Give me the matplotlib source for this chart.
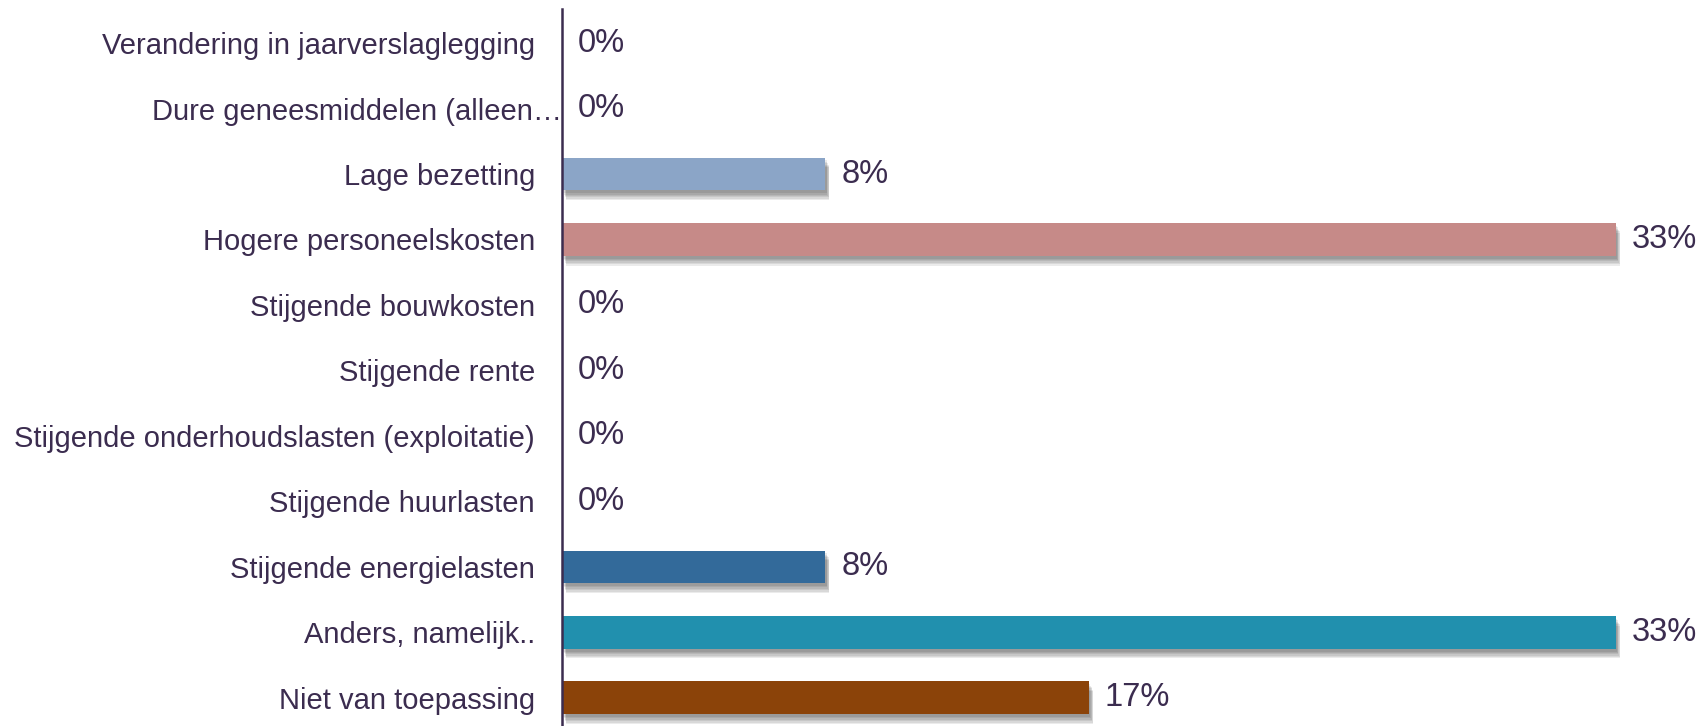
import matplotlib.pyplot as plt
import matplotlib.patheffects as pe

# data (top to bottom)
categories = [
    'Verandering in jaarverslaglegging',
    'Dure geneesmiddelen (alleen…',
    'Lage bezetting',
    'Hogere personeelskosten',
    'Stijgende bouwkosten',
    'Stijgende rente',
    'Stijgende onderhoudslasten (exploitatie)',
    'Stijgende huurlasten',
    'Stijgende energielasten',
    'Anders, namelijk..',
    'Niet van toepassing',
]
values = [0, 0, 8.33, 33.33, 0, 0, 0, 0, 8.33, 33.33, 16.67]
labels = ['0%', '0%', '8%', '33%', '0%', '0%', '0%', '0%', '8%', '33%', '17%']
colors = ['#7F7F7F', '#A5A5A5', '#8BA5C7', '#C68A88', '#B0C77F', '#9A86B3',
          '#7EC0D3', '#F6B87A', '#336A9A', '#2190AE', '#8B4309']

text_color = '#3B2C4F'
plt.rcParams['font.family'] = ['Liberation Sans', 'DejaVu Sans']

fig = plt.figure(figsize=(17, 7.26), dpi=100)
ax = fig.add_axes([562 / 1700, 0, 1 - 562 / 1700, 1 - 9 / 726])

y = list(range(len(categories)))

# soft drop shadow under the bars
shadow = [pe.SimplePatchShadow(offset=(dx, dy), shadow_rgbFace='black', alpha=0.08)
          for dx, dy in [(1, -2), (1.5, -3), (2, -4), (2.5, -5), (3, -6), (3, -7)]]
shadow.append(pe.Normal())

bars = ax.barh(y, values, height=0.5, color=colors, zorder=2)
for b, v in zip(bars, values):
    if v > 0:
        b.set_path_effects(shadow)

for yi, v, lab in zip(y, values, labels):
    ax.annotate(lab, (v, yi), xytext=(11.5, 0), textcoords='offset points',
                ha='left', va='center', fontsize=23.5, color=text_color)

ax.set_xlim(0, 36)
ax.set_ylim(10.43, -0.52)
ax.set_yticks(y)
ax.set_yticklabels(categories, fontsize=21, color=text_color)
ax.tick_params(axis='y', length=0, pad=19.5)
ax.yaxis.get_major_ticks()[1].set_pad(0)
ax.set_xticks([])

for s in ['top', 'right', 'bottom']:
    ax.spines[s].set_visible(False)
ax.spines['left'].set_color(text_color)
ax.spines['left'].set_linewidth(1.8)

fig.savefig('out.png', dpi=100)
